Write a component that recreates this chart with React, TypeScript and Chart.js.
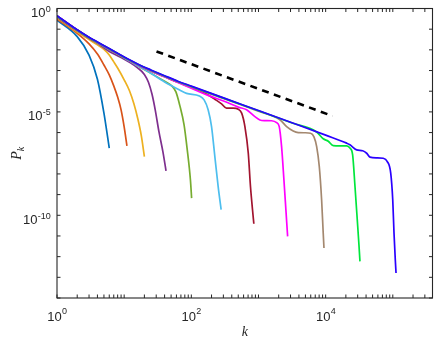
import { useEffect, useRef } from 'react';
import { Chart, registerables } from 'chart.js';

Chart.register(...registerables);

// ---- data (k, P_k) ----
const k1 = [1, 2, 3, 4, 5, 6];
const p1 = [0.275, 0.0437, 5.6e-3, 3.8e-4, 8.7e-6, 1.78e-7];

const k2 = [1, 2, 3, 4, 5, 6, 7, 8, 9, 10, 11];
const p2 = [0.316, 0.063, 0.0195, 6.3e-3, 1.86e-3, 6.2e-4, 1.82e-4, 5.2e-5, 1.26e-5, 1.9e-6, 2.3e-7];

const k3 = [1, 2, 3, 4, 5, 6, 7, 8, 10, 12, 14, 16, 18, 20];
const p3 = [0.355, 0.0724, 0.0316, 0.0174, 0.0105, 5.6e-3, 2.63e-3, 1.32e-3, 3.55e-4, 1.05e-4, 2.4e-5, 4.5e-6, 7.1e-7, 6.9e-8];

const k4 = [1, 2, 3, 4, 6, 9, 12, 16, 20, 23, 26, 29, 33, 38, 42];
const p4 = [0.38, 0.083, 0.036, 0.021, 8.3e-3, 4.3e-3, 2.5e-3, 1.32e-3, 6.5e-4, 2.7e-4, 7.1e-5, 1.26e-5, 1.07e-6, 1.05e-7, 1.41e-8];

const k5 = [1, 2, 3, 4, 6, 9, 12, 17, 28, 40, 51, 59, 67, 78, 87, 97, 101];
const p5 = [0.417, 0.0891, 0.038, 0.0219, 0.0105, 4.9e-3, 3.0e-3, 1.5e-3, 6.0e-4, 3.0e-4, 1.82e-4, 9.3e-5, 2.19e-5, 2.34e-6, 1.45e-7, 5.1e-9, 6.8e-10];

const k6 = [1, 2, 3, 4, 6, 9, 12, 17, 20, 40, 67, 85, 132, 155, 178, 200, 224, 251, 278];
const p6 = [0.427, 0.0891, 0.038, 0.0219, 0.0105, 5.0e-3, 2.88e-3, 1.51e-3, 1.15e-3, 2.82e-4, 1.15e-4, 7.9e-5, 5.9e-5, 3.8e-5, 1.26e-5, 1.95e-6, 6.9e-8, 2.45e-9, 1.86e-10];

const k7 = [1, 2, 3, 4, 6, 9, 12, 17, 25, 40, 63, 100, 168, 224, 282, 334, 420, 500, 562, 628, 705, 760, 815, 853];
const p7 = [0.437, 0.0912, 0.0389, 0.0224, 0.0107, 5.25e-3, 3.09e-3, 1.7e-3, 9.5e-4, 5.0e-4, 2.69e-4, 1.51e-4, 7.4e-5, 4.07e-5, 2.45e-5, 1.51e-5, 1.51e-5, 1.35e-5, 8.7e-6, 1.95e-6, 1.0e-7, 2.45e-9, 1.86e-10, 3.9e-11];

const k8 = [1, 2, 3, 4, 6, 9, 12, 17, 25, 40, 63, 100, 178, 316, 500, 665, 883, 1050, 1245, 1567, 1862, 2037, 2208, 2393, 2559, 2716];
const p8 = [0.447, 0.0912, 0.0398, 0.0229, 0.011, 5.25e-3, 3.09e-3, 1.7e-3, 9.5e-4, 5.0e-4, 2.63e-4, 1.38e-4, 6.3e-5, 3.16e-5, 1.7e-5, 1.26e-5, 5.9e-6, 4.07e-6, 3.8e-6, 3.72e-6, 3.02e-6, 1.95e-6, 2.09e-7, 5.1e-9, 1.86e-10, 9.5e-12];

const k9 = [1, 2, 3, 4, 6, 9, 12, 17, 25, 40, 63, 100, 316, 1000, 2084, 2626, 3289, 3908, 4920, 5970, 6700, 7350, 8040, 8710, 9200, 9440];
const p9 = [0.437, 0.0912, 0.0398, 0.0234, 0.0112, 5.4e-3, 3.16e-3, 1.78e-3, 1.0e-3, 5.25e-4, 2.88e-4, 1.62e-4, 4.17e-5, 1.07e-5, 4.17e-6, 1.95e-6, 1.2e-6, 1.0e-6, 9.8e-7, 9.3e-7, 6.2e-7, 2.09e-7, 2.29e-8, 5.6e-10, 1.38e-11, 2.63e-12];

const k10 = [1, 2, 3, 4, 6, 9, 12, 17, 25, 40, 63, 100, 316, 1000, 3162, 7350, 9200, 10940, 12970, 16330, 20560, 23010, 25230, 27350, 29580, 31330, 32430];
const p10 = [0.437, 0.0912, 0.0398, 0.0234, 0.0112, 5.4e-3, 3.2e-3, 1.8e-3, 1.03e-3, 5.4e-4, 2.95e-4, 1.7e-4, 4.4e-5, 1.13e-5, 2.9e-6, 1.07e-6, 5.0e-7, 3.8e-7, 2.34e-7, 2.29e-7, 2.29e-7, 1.78e-7, 8.3e-8, 2.45e-9, 6.0e-11, 3.7e-12, 5.9e-13];

const k11 = [1, 2, 3, 4, 6, 9, 12, 17, 25, 40, 63, 100, 316, 1000, 3162, 10000, 20560, 23010, 28970, 35560, 40830, 45710, 57540, 72110, 82790, 93110, 99770, 104200, 108900, 111700];
const p11 = [0.447, 0.0933, 0.0407, 0.024, 0.0115, 5.5e-3, 3.3e-3, 1.86e-3, 1.07e-3, 5.6e-4, 3.05e-4, 1.76e-4, 4.5e-5, 1.16e-5, 2.97e-6, 7.5e-7, 3.09e-7, 2.57e-7, 1.45e-7, 1.32e-7, 1.0e-7, 6.5e-8, 6.0e-8, 5.75e-8, 3.98e-8, 1.1e-8, 5.6e-10, 1.38e-11, 7.1e-13, 1.62e-13];

const seriesK = [k1, k2, k3, k4, k5, k6, k7, k8, k9, k10, k11];
const seriesP = [p1, p2, p3, p4, p5, p6, p7, p8, p9, p10, p11];
const seriesColors = ['#0072BD', '#D95319', '#EDB120', '#7E2F8E', '#77AC30', '#4DBEEE', '#A2142F', '#FF00FF', '#A4886F', '#00E63C', '#2A00FF'];

// reference slope line
const dashK = [30.3, 12700];
const dashP = [8.4e-3, 6.3e-6];

// axes
const xMin = 1;
const xMax = 3.9e5;
const yMin = 1e-14;
const yMax = 1;
const xLabelExps = [0, 2, 4];
const yLabelExps = [0, -5, -10];
const xTitle = 'k';
const yTitleMain = 'P';
const yTitleSub = 'k';

const AXIS_COLOR = '#262626';
const SANS = '"Liberation Sans", Arial, Helvetica, sans-serif';
const SERIF = '"Liberation Serif", "Times New Roman", serif';

function drawPower(ctx: CanvasRenderingContext2D, exp: number, x: number, y: number, align: 'center' | 'right', rise: number) {
  const base = '10';
  const sup = String(exp);
  const baseFont = `13px ${SANS}`;
  const supFont = `9px ${SANS}`;
  ctx.font = baseFont;
  const wb = ctx.measureText(base).width;
  ctx.font = supFont;
  const ws = ctx.measureText(sup).width;
  const total = wb + ws;
  const start = align === 'center' ? x - total / 2 : x - total;
  ctx.textAlign = 'left';
  ctx.textBaseline = 'alphabetic';
  ctx.font = baseFont;
  ctx.fillText(base, start, y);
  ctx.font = supFont;
  ctx.fillText(sup, start + wb + 0.3, y - rise);
}

const axesPlugin = {
  id: 'matlabAxes',
  afterDatasetsDraw(chart: any) {
    const { ctx, chartArea: a, scales } = chart;
    const xs = scales.x;
    const ys = scales.y;
    ctx.save();
    ctx.strokeStyle = AXIS_COLOR;
    ctx.fillStyle = AXIS_COLOR;
    ctx.lineWidth = 1.1;
    ctx.strokeRect(a.left, a.top, a.right - a.left, a.bottom - a.top);

    const TL = 3.5;
    ctx.lineWidth = 1;
    ctx.beginPath();
    for (let d = 0; d <= 6; d++) {
      for (let m = 1; m <= 9; m++) {
        const v = m * Math.pow(10, d);
        if (v < xMin || v > xMax) continue;
        const px = xs.getPixelForValue(v);
        ctx.moveTo(px, a.bottom);
        ctx.lineTo(px, a.bottom - TL);
        ctx.moveTo(px, a.top);
        ctx.lineTo(px, a.top + TL);
      }
    }
    for (let e = 0; e >= -14; e--) {
      const py = ys.getPixelForValue(Math.pow(10, e));
      ctx.moveTo(a.left, py);
      ctx.lineTo(a.left + TL, py);
      ctx.moveTo(a.right, py);
      ctx.lineTo(a.right - TL, py);
    }
    ctx.stroke();

    // tick labels
    xLabelExps.forEach((e) => {
      const px = xs.getPixelForValue(Math.pow(10, e));
      drawPower(ctx, e, px, a.bottom + 23, 'center', 6.8);
    });
    yLabelExps.forEach((e) => {
      const py = ys.getPixelForValue(Math.pow(10, e));
      drawPower(ctx, e, a.left - 6.5, py + 8.6, 'right', 5.3);
    });

    // axis titles
    ctx.textBaseline = 'alphabetic';
    ctx.font = `italic 14px ${SERIF}`;
    ctx.textAlign = 'center';
    ctx.fillText(xTitle, (a.left + a.right) / 2, 336);

    ctx.save();
    ctx.translate(21, (a.top + a.bottom) / 2);
    ctx.rotate(-Math.PI / 2);
    ctx.font = `italic 14px ${SERIF}`;
    const wP = ctx.measureText(yTitleMain).width;
    ctx.font = `italic 10px ${SERIF}`;
    const wk = ctx.measureText(yTitleSub).width;
    const st = -(wP + wk) / 2;
    ctx.textAlign = 'left';
    ctx.font = `italic 14px ${SERIF}`;
    ctx.fillText(yTitleMain, st, 0);
    ctx.font = `italic 10px ${SERIF}`;
    ctx.fillText(yTitleSub, st + wP, 3);
    ctx.restore();

    ctx.restore();
  },
};

export default function App() {
  const canvasRef = useRef<HTMLCanvasElement | null>(null);

  useEffect(() => {
    if (!canvasRef.current) return;
    const n = seriesK.length;
    const datasets: any[] = seriesK.map((ks, i) => ({
      label: `N${i + 1}`,
      data: ks.map((k, j) => ({ x: k, y: seriesP[i][j] })),
      borderColor: seriesColors[i],
      backgroundColor: seriesColors[i],
      borderWidth: 1.7,
      pointRadius: 0,
      showLine: true,
      fill: false,
      cubicInterpolationMode: 'monotone',
      borderJoinStyle: 'round',
      order: n - i + 1,
    }));
    datasets.push({
      label: 'slope',
      data: dashK.map((k, j) => ({ x: k, y: dashP[j] })),
      borderColor: '#000000',
      backgroundColor: '#000000',
      borderWidth: 2.6,
      borderDash: [7, 5.5],
      pointRadius: 0,
      showLine: true,
      fill: false,
      order: 0,
    });

    const chart = new Chart(canvasRef.current, {
      type: 'scatter',
      data: { datasets },
      options: {
        responsive: false,
        devicePixelRatio: 1,
        animation: false,
        events: [],
        layout: { padding: { left: 57, top: 8.5, right: 3.5, bottom: 43 } },
        plugins: { legend: { display: false }, tooltip: { enabled: false } },
        scales: {
          x: { type: 'logarithmic', min: xMin, max: xMax, display: false },
          y: { type: 'logarithmic', min: yMin, max: yMax, display: false },
        },
      },
      plugins: [axesPlugin],
    });
    return () => chart.destroy();
  }, []);

  return (
    <div style={{ position: 'absolute', left: 0, top: 0, width: 436, height: 341, background: '#ffffff' }}>
      <canvas ref={canvasRef} width={436} height={341} style={{ display: 'block' }} />
    </div>
  );
}
